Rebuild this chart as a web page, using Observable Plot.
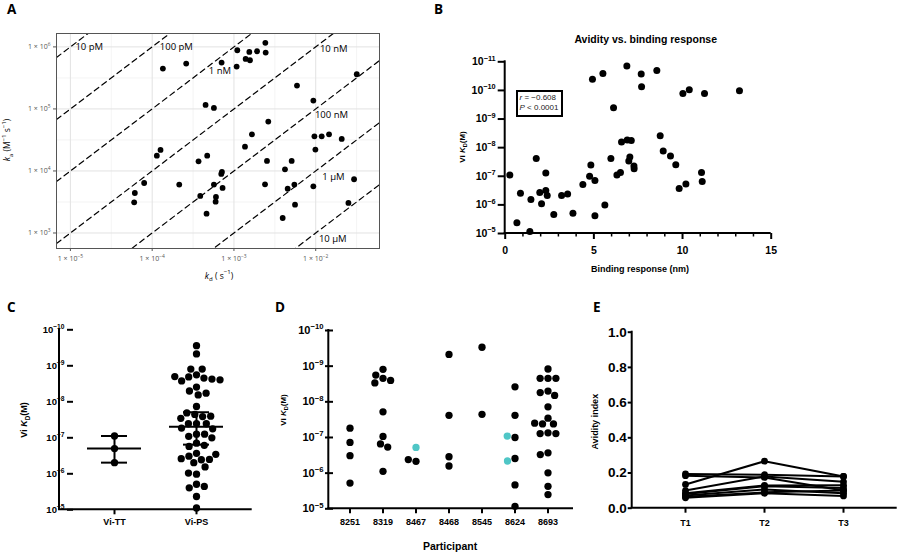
<!DOCTYPE html>
<html><head><meta charset="utf-8">
<script src="https://cdn.jsdelivr.net/npm/d3@7"></script>
<script src="https://cdn.jsdelivr.net/npm/@observablehq/plot@0.6"></script>
<style>
body{margin:0;background:#fff;}
#fig{position:relative;width:898px;height:553px;overflow:hidden;background:#fff;font-family:"Liberation Sans",Arial,sans-serif;}
.plabel{position:absolute;font-family:"Open Sans",sans-serif;font-weight:700;font-size:13.5px;line-height:normal;}
.note{position:absolute;border:2px solid #000;font-family:"Liberation Sans",Arial,sans-serif;font-size:8px;line-height:9.5px;color:#222;padding:1.5px 0 0 1.5px;box-sizing:border-box;white-space:nowrap;}
</style></head>
<body><div id="fig"></div>
<script>
// ---------------- DATA ----------------
// Panel A: log10 of dissociation (kd, s^-1) and association (ka, M^-1 s^-1) rates
const aLogKd = [-2.616,-2.959,-2.812,-2.718,-2.612,-2.857,-2.804,-3.151,-2.967,-3.584,-3.869,-1.498,-2.229,-2.029,-3.347,-3.245,-2.580,-2.780,-2.016,-1.927,-1.837,-1.682,-2.865,-2.004,-3.898,-3.943,-3.327,-3.433,-2.596,-2.294,-2.376,-3.147,-3.155,-1.531,-4.098,-3.669,-3.245,-2.620,-2.261,-2.029,-2.343,-3.139,-4.212,-3.412,-3.220,-4.220,-3.224,-2.253,-1.600,-3.335,-2.404];
const aLogKa = [6.065,5.946,5.919,5.930,5.909,5.806,5.785,5.747,5.683,5.731,5.651,5.559,5.376,5.134,5.065,5.016,4.796,4.591,4.559,4.559,4.591,4.516,4.392,4.344,4.339,4.247,4.247,4.156,4.161,4.161,4.027,3.984,3.952,3.866,3.806,3.780,3.780,3.785,3.780,3.753,3.715,3.726,3.645,3.597,3.581,3.495,3.505,3.457,3.484,3.312,3.242];
const isoKD = [1e-11, 1e-10, 1e-9, 1e-8, 1e-7, 1e-6, 1e-5];
const isoNames = ["10 pM", "100 pM", "1 nM", "10 nM", "100 nM", "1 µM", "10 µM"];
const aXTicks = [1e-5, 1e-4, 1e-3, 1e-2];
const aYTicks = [1e3, 1e4, 1e5, 1e6];

// Panel B: binding response (nm) and log10 Vi KD (M)
const bResponse = [0.26,0.66,0.86,1.39,1.45,1.75,1.95,2.05,2.29,2.29,2.37,2.74,3.18,3.52,3.82,4.38,4.76,4.83,4.92,5.06,5.06,5.51,5.62,5.96,6.11,6.30,6.50,6.56,6.86,6.88,7.11,6.97,7.03,7.26,7.27,7.67,7.69,8.55,8.74,8.91,9.32,9.62,9.81,10.02,10.19,10.38,11.07,11.11,11.24,13.21];
const bLogKD = [-7.04,-5.38,-6.41,-5.07,-6.19,-7.62,-6.43,-6.04,-7.11,-6.50,-6.33,-5.66,-6.33,-6.38,-5.71,-6.71,-7.00,-7.39,-10.39,-6.85,-5.62,-10.59,-6.00,-7.62,-9.39,-7.04,-7.13,-8.20,-10.85,-8.27,-8.25,-7.53,-7.67,-7.36,-7.26,-10.57,-10.13,-10.70,-8.42,-7.88,-7.71,-7.40,-6.57,-9.89,-6.73,-10.02,-7.13,-6.82,-9.89,-9.99];
const bXTicks = [0, 5, 10, 15];
const bStats = ["r = \u22120.608", "P < 0.0001"];

// Panel C: log10 Vi KD (M) by vaccine group
const cGroups = ["Vi-TT", "Vi-PS"];
const cViTT = [-7.05, -6.70, -6.31];
const cViPS = [-9.56,-9.33,-8.75,-8.69,-8.91,-8.91,-8.66,-8.58,-8.63,-8.70,-8.61,-8.41,-8.30,-8.19,-8.24,-7.87,-7.65,-7.59,-7.69,-7.60,-7.54,-7.39,-7.39,-7.39,-7.27,-7.25,-7.10,-7.04,-7.10,-7.00,-6.85,-6.76,-6.79,-6.57,-6.49,-6.39,-6.31,-6.40,-6.42,-6.54,-6.19,-5.99,-6.02,-5.71,-5.61,-5.65,-5.37,-5.05];
const cCenter = [-6.70, -7.31];
const cLow = [-7.05, -7.71];
const cHigh = [-6.31, -6.81];

// Panel D: log10 Vi KD (M) by participant (black: Vi-PS, cyan: Vi-TT)
const dParticipants = ["8251", "8319", "8467", "8468", "8545", "8624", "8693"];
const dViPS = [
  [-7.26,-6.86,-6.49,-5.72],
  [-8.91,-8.66,-8.75,-8.60,-8.53,-7.72,-7.03,-6.82,-6.73,-6.05],
  [-6.33,-6.38],
  [-9.33,-7.62,-6.46,-6.20],
  [-9.53,-7.65],
  [-8.42,-7.62,-7.00,-6.41,-5.67,-5.07],
  [-8.92,-8.66,-8.66,-8.66,-8.30,-8.26,-8.18,-7.86,-7.54,-7.38,-7.38,-7.40,-7.13,-7.11,-7.11,-6.57,-6.52,-6.01,-5.63,-5.40]
];
const dViTT = [[], [], [-6.72], [], [], [-7.04,-6.34], []];
const kdTicks = [1e-10, 1e-9, 1e-8, 1e-7, 1e-6, 1e-5];

// Panel E: avidity index per antibody at T1, T2, T3
const eTimes = ["T1", "T2", "T3"];
const eSeries = [
  [0.195, 0.19, 0.18],
  [0.185, 0.175, 0.10],
  [0.135, 0.267, 0.18],
  [0.10, 0.18, 0.15],
  [0.085, 0.129, 0.13],
  [0.08, 0.125, 0.115],
  [0.072, 0.106, 0.085],
  [0.065, 0.09, 0.10],
  [0.059, 0.085, 0.07]
];
const eYTicks = [0, 0.2, 0.4, 0.6, 0.8, 1.0];

// ---------------- LAYOUT (label anchors for panel A, log10 units) ----------------
const isoLabelLogX = [-4.939, -3.907, -3.307, -1.949, -2.010, -1.919, -1.961];
const isoLabelLogY = [6.0, 6.0, 5.608, 5.974, 4.910, 3.903, 2.910];

// ---------------- HELPERS ----------------
const fig = document.getElementById("fig");
const ARIAL = "'Liberation Sans', Arial, sans-serif";
const minus = e => (e < 0 ? "\u2212" + (-e) : String(e));
const decFmt = d => "10^" + minus(Math.round(Math.log10(d)));
function place(el, left, top) {
  el.style.position = "absolute"; el.style.left = left + "px"; el.style.top = top + "px";
  el.style.overflow = "visible"; fig.appendChild(el);
}
function supText(svg) {
  d3.select(svg).selectAll("text").each(function () {
    const t = this.textContent, k = t.indexOf("^");
    if (k < 0 || this.querySelector("tspan")) return;
    const s = d3.select(this); s.text(null);
    s.append("tspan").text(t.slice(0, k));
    s.append("tspan").attr("dy", "-0.62em").attr("font-size", "70%").text(t.slice(k + 1));
  });
}
function addText(svg, x, y, html, o = {}) {
  const t = d3.select(svg).append("text")
    .attr("transform", `translate(${x},${y})` + (o.rotate ? ` rotate(${o.rotate})` : ""))
    .attr("text-anchor", o.anchor || "middle").attr("dy", "0.35em")
    .attr("font-size", o.size || 10).attr("font-weight", o.weight || "bold")
    .attr("font-family", o.family || ARIAL).attr("fill", o.fill || "black");
  t.node().innerHTML = html;
}
function axisFrame(svg, left, top, bottom, xEnd) {
  const g = d3.select(svg).append("g").attr("stroke", "black").attr("stroke-width", 2).attr("fill", "none");
  g.append("line").attr("x1", left).attr("x2", left).attr("y1", top - 1).attr("y2", bottom);
  g.append("line").attr("x1", left - 1).attr("x2", xEnd).attr("y1", bottom).attr("y2", bottom);
}
const kdLabel = s => `Vi <tspan font-style="italic">K</tspan><tspan font-size="${s * 0.7}" dy="${s * 0.28}">D</tspan><tspan dy="${-s * 0.28}">(M)</tspan>`;
function letter(ch, left, top) {
  const d = document.createElement("div"); d.className = "plabel"; d.textContent = ch;
  d.style.left = left + "px"; d.style.top = top + "px"; fig.appendChild(d);
}

// ---------------- PANEL A ----------------
{
  const pts = aLogKd.map((v, i) => ({kd: 10 ** v, ka: 10 ** aLogKa[i]}));
  const xDom = [10 ** -5.17, 10 ** -1.22], yDom = [10 ** 2.75, 10 ** 6.216];
  const iso = isoKD.flatMap((K, i) => xDom.map(x => ({name: isoNames[i], kd: x, ka: x / K})));
  const isoLab = isoNames.map((n, i) => ({n, kd: 10 ** isoLabelLogX[i], ka: 10 ** isoLabelLogY[i]}));
  const halfX = aXTicks.map(t => t * Math.sqrt(10)), halfY = [10 ** 3.5, 10 ** 4.5, 10 ** 5.5];
  const fmtA = d => "1 \u00d7 10^" + minus(Math.round(Math.log10(d)));
  const W = 390, H = 290;
  const svg = Plot.plot({
    width: W, height: H, marginLeft: 56, marginRight: 11, marginTop: 33, marginBottom: 42,
    style: {fontFamily: "'Open Sans', sans-serif", background: "transparent", overflow: "visible"},
    x: {type: "log", domain: xDom}, y: {type: "log", domain: yDom},
    marks: [
      Plot.gridX(halfX, {stroke: "#efefef", strokeOpacity: 1, strokeWidth: 0.7}),
      Plot.gridY(halfY, {stroke: "#efefef", strokeOpacity: 1, strokeWidth: 0.7}),
      Plot.gridX(aXTicks, {stroke: "#e2e2e2", strokeOpacity: 1, strokeWidth: 1}),
      Plot.gridY(aYTicks, {stroke: "#e2e2e2", strokeOpacity: 1, strokeWidth: 1}),
      Plot.line(iso, {x: "kd", y: "ka", z: "name", stroke: "black", strokeWidth: 1.2, strokeDasharray: "5.5,4", clip: true}),
      Plot.text(isoLab, {x: "kd", y: "ka", text: "n", textAnchor: "start", fontSize: 9.5, fill: "black"}),
      Plot.dot(pts, {x: "kd", y: "ka", r: 2.9, fill: "black"}),
      Plot.frame({stroke: "#555", strokeWidth: 1}),
      Plot.axisX(aXTicks, {tickFormat: fmtA, tickSize: 3, tickPadding: 5, fontSize: 7, color: "#555", label: null}),
      Plot.axisY(aYTicks, {tickFormat: fmtA, tickSize: 3, tickPadding: 3, fontSize: 7, color: "#555", label: null})
    ]
  });
  supText(svg);
  const sub = (s, v) => `<tspan font-size="${s * 0.72}" dy="${s * 0.25}">${v}</tspan>`;
  const sup = (s, v) => `<tspan font-size="${s * 0.72}" dy="${-s * 0.55}">${v}</tspan>`;
  addText(svg, 219, 276, `<tspan font-style="italic">k</tspan>${sub(8.5, "d")}<tspan dy="${-8.5 * 0.25}"> ( s</tspan>${sup(8.5, "\u22121")}<tspan dy="${8.5 * 0.55}">)</tspan>`, {size: 8.5, weight: "normal", family: "'Open Sans', sans-serif"});
  addText(svg, 7.5, 140, `<tspan font-style="italic">k</tspan>${sub(8.5, "a")}<tspan dy="${-8.5 * 0.25}"> (M</tspan>${sup(8.5, "\u22121")}<tspan dy="${8.5 * 0.55}"> s</tspan>${sup(8.5, "\u22121")}<tspan dy="${8.5 * 0.55}">)</tspan>`, {size: 8.5, weight: "normal", rotate: -90, family: "'Open Sans', sans-serif"});
  place(svg, 0, 0);
}

// ---------------- PANEL B ----------------
{
  const pts = bResponse.map((x, i) => ({x, kd: 10 ** bLogKD[i]}));
  const decB = d3.range(-11, -4).map(e => 10 ** e);
  const minor = d3.range(1, 15).filter(v => v % 5);
  const W = 458, H = 290, mL = 64.7, mR = 127.3, mT = 61.3, mB = 57;
  const svg = Plot.plot({
    width: W, height: H, marginLeft: mL, marginRight: mR, marginTop: mT, marginBottom: mB,
    style: {fontFamily: ARIAL, background: "transparent", overflow: "visible"},
    x: {domain: [0, 15]}, y: {type: "log", domain: [1e-5, 1e-11]},
    marks: [
      Plot.axisX(minor, {tickSize: 3.5, strokeWidth: 1.5, tickFormat: () => "", label: null}),
      Plot.axisX(bXTicks, {tickSize: 6, strokeWidth: 2, tickPadding: 7, fontSize: 10.5, fontWeight: "bold", label: null}),
      Plot.axisY(decB, {tickSize: 7, strokeWidth: 2, tickPadding: 2.5, fontSize: 10.5, fontWeight: "bold", tickFormat: decFmt, label: null}),
      Plot.dot(pts, {x: "x", y: "kd", r: 3.5, fill: "black"})
    ]
  });
  supText(svg);
  axisFrame(svg, mL, mT, H - mB, W - mR);
  addText(svg, 205.7, 39, "Avidity vs. binding response", {size: 10.5});
  addText(svg, 200, 269, "Binding response (nm)", {size: 9});
  addText(svg, 21.7, 147, kdLabel(8), {size: 8, rotate: -90});
  place(svg, 440, 0);
  const note = document.createElement("div"); note.className = "note";
  note.innerHTML = bStats.map(s => s.replace(/^(r|P)/, "<i>$1</i>")).join("<br>");
  note.style.left = "516px"; note.style.top = "89.5px"; note.style.width = "47px"; note.style.height = "27.5px";
  fig.appendChild(note);
}

// ---------------- PANEL C ----------------
{
  const pts = [...cViTT.map(v => ({g: cGroups[0], kd: 10 ** v})), ...cViPS.map(v => ({g: cGroups[1], kd: 10 ** v}))];
  const sum = cGroups.map((g, i) => ({g, mid: 10 ** cCenter[i], lo: 10 ** cLow[i], hi: 10 ** cHigh[i]}));
  const W = 300, H = 263, mL = 59, mR = 48.3, mT = 39.3, mB = 43.7;
  const svg = Plot.plot({
    width: W, height: H, marginLeft: mL, marginRight: mR, marginTop: mT, marginBottom: mB,
    style: {fontFamily: ARIAL, background: "transparent", overflow: "visible"},
    fx: {domain: cGroups, paddingInner: 0, paddingOuter: 0.17},
    y: {type: "log", domain: [1e-5, 1e-10]},
    marks: [
      Plot.dot(pts, Plot.dodgeX({anchor: "middle", padding: 0.8}, {fx: "g", y: "kd", r: 3.65, fill: "black"})),
      Plot.ruleY(sum, {fx: "g", y: "mid", insetLeft: 14, insetRight: 14, strokeWidth: 2}),
      Plot.ruleY(sum, {fx: "g", y: "lo", insetLeft: 28, insetRight: 28, strokeWidth: 2}),
      Plot.ruleY(sum, {fx: "g", y: "hi", insetLeft: 28, insetRight: 28, strokeWidth: 2}),
      Plot.ruleX(sum, {fx: "g", x: null, y1: "lo", y2: "hi", strokeWidth: 2}),
      Plot.axisY(kdTicks, {tickSize: 6, strokeWidth: 2, tickPadding: 3, fontSize: 9.5, fontWeight: "bold", tickFormat: decFmt, label: null}),
      Plot.axisFx({anchor: "bottom", tickSize: 5, strokeWidth: 2, tickPadding: 4, fontSize: 9, fontWeight: "bold", label: null})
    ]
  });
  supText(svg);
  axisFrame(svg, mL, mT, H - mB, W - mR);
  addText(svg, 24, 130, kdLabel(9), {size: 9, rotate: -90});
  place(svg, 0, 290);
}

// ---------------- PANEL D ----------------
{
  const pts = dParticipants.flatMap((p, i) => [
    ...dViPS[i].map(v => ({p, kd: 10 ** v, c: "black"})),
    ...dViTT[i].map(v => ({p, kd: 10 ** v, c: "#4fc6c6"}))
  ]);
  const W = 328, H = 263, mL = 58.3, mR = 29.3, mT = 40, mB = 44.7;
  const svg = Plot.plot({
    width: W, height: H, marginLeft: mL, marginRight: mR, marginTop: mT, marginBottom: mB,
    style: {fontFamily: ARIAL, background: "transparent", overflow: "visible"},
    color: {type: "identity"},
    fx: {domain: dParticipants, paddingInner: 0, paddingOuter: 0.135},
    y: {type: "log", domain: [1e-5, 1e-10]},
    marks: [
      Plot.dot(pts, Plot.dodgeX({anchor: "middle", padding: 0.6}, {fx: "p", y: "kd", r: 3.65, fill: "c"})),
      Plot.axisY(kdTicks, {tickSize: 8, strokeWidth: 2, tickPadding: 2, fontSize: 11, fontWeight: "bold", tickFormat: decFmt, label: null}),
      Plot.axisFx({anchor: "bottom", tickSize: 5, strokeWidth: 2, tickPadding: 5, fontSize: 9, fontWeight: "bold", label: null})
    ]
  });
  supText(svg);
  axisFrame(svg, mL, mT, H - mB, W - 25);
  addText(svg, 13.3, 120, kdLabel(8), {size: 8, rotate: -90});
  addText(svg, 180, 256.7, "Participant", {size: 10.5});
  place(svg, 270, 290);
}

// ---------------- PANEL E ----------------
{
  const pts = eSeries.flatMap((s, i) => s.map((v, j) => ({s: i, t: eTimes[j], v})));
  const W = 318, H = 263, mL = 51.7, mR = 1.3, mT = 41.7, mB = 45.3;
  const svg = Plot.plot({
    width: W, height: H, marginLeft: mL, marginRight: mR, marginTop: mT, marginBottom: mB,
    style: {fontFamily: ARIAL, background: "transparent", overflow: "visible"},
    x: {type: "point", domain: eTimes, padding: 0.673},
    y: {domain: [0, 1]},
    marks: [
      Plot.line(pts, {x: "t", y: "v", z: "s", stroke: "black", strokeWidth: 2}),
      Plot.dot(pts, {x: "t", y: "v", r: 3.4, fill: "black"}),
      Plot.axisY(eYTicks, {tickSize: 4, strokeWidth: 2, tickPadding: 1.5, fontSize: 13.5, fontWeight: "bold", tickFormat: d3.format(".1f"), label: null}),
      Plot.axisX(eTimes, {tickSize: 5, strokeWidth: 2, tickPadding: 6, fontSize: 9, fontWeight: "bold", label: null})
    ]
  });
  axisFrame(svg, mL, mT, H - mB, W - mR);
  addText(svg, 15, 131.7, "Avidity index", {size: 9, rotate: -90});
  place(svg, 580, 290);
}

// ---------------- PANEL LETTERS ----------------
letter("A", 7, 0); letter("B", 434, 0); letter("C", 7, 298); letter("D", 275, 298); letter("E", 593, 298);
</script></body></html>
